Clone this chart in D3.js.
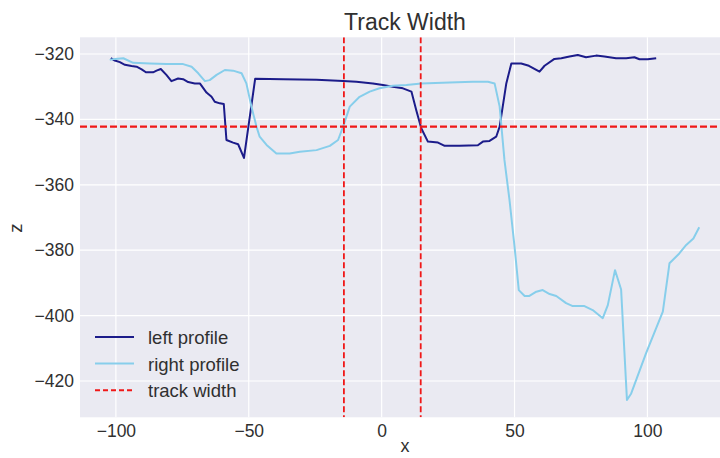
<!DOCTYPE html>
<html>
<head>
<meta charset="utf-8">
<script src="https://cdn.jsdelivr.net/npm/d3@7"></script>
<style>
  html, body { margin: 0; padding: 0; background: #ffffff; }
  svg { display: block; font-family: "Liberation Sans", Arial, sans-serif; }
</style>
</head>
<body>
<svg id="chart" width="720" height="458"></svg>
<script>
// Left rail profile: x positions and heights
const leftX = [-101.9, -100.4, -98.5, -96.6, -94.1, -92.2, -90.3, -88.7, -86.0, -84.7, -83.1, -81.0, -79.1,
  -76.6, -74.7, -72.8, -70.3, -68.4, -65.9, -64.0, -62.8, -60.9, -59.4, -58.4, -55.9, -54.0, -51.8, -47.6,
  -37.1, -24.5, -14.5, -9.5, -3.3, 0.5, 4.2, 8.0, 11.2, 13.0, 14.9, 17.4, 21.2, 23.7, 29.3, 36.2, 38.1,
  40.6, 43.1, 44.4, 46.9, 48.8, 52.5, 55.4, 59.4, 61.3, 65.0, 67.6, 70.7, 73.8, 76.9, 80.7, 83.8, 88.2,
  92.0, 95.1, 97.0, 100.1, 103.3];
const leftZ = [-321.3, -322.0, -322.5, -323.3, -323.7, -323.9, -324.7, -325.6, -325.6, -325.1, -324.6, -326.4, -328.3,
  -327.5, -327.7, -328.6, -329.0, -329.0, -331.8, -333.1, -334.6, -335.1, -335.3, -346.3, -347.1, -347.6, -351.8, -327.6,
  -327.7, -327.9, -328.3, -328.5, -329.0, -329.5, -330.0, -330.5, -331.5, -337.1, -342.7, -346.8, -347.1, -348.1, -348.1, -347.9, -346.8,
  -346.6, -345.3, -342.2, -329.0, -322.9, -322.9, -323.6, -325.4, -323.6, -321.5, -321.3, -320.8, -320.3, -321.0, -320.5, -320.8, -321.3,
  -321.3, -321.0, -321.6, -321.6, -321.3];

// Right rail profile: x positions and heights
const rightX = [-102.3, -100.4, -97.2, -93.5, -87.2, -80.9, -74.7, -71.5, -69.0, -66.5, -64.7, -62.1, -59.0,
  -55.9, -52.7, -50.9, -49.0, -47.1, -45.9, -43.3, -39.6, -34.6, -30.8, -24.5, -19.5, -16.4, -14.5, -12.0,
  -8.3, -4.5, -0.8, 4.2, 9.3, 14.9, 25.6, 34.3, 40.0, 42.5, 44.4, 46.2, 48.1, 50.0, 51.6, 53.8, 55.6,
  58.2, 60.6, 63.2, 65.7, 69.4, 71.9, 76.3, 79.4, 83.2, 85.1, 87.8, 90.1, 92.3, 93.9, 99.5, 105.8,
  108.3, 112.0, 114.6, 117.3, 119.5];
const rightZ = [-321.8, -321.5, -321.3, -322.7, -322.9, -323.1, -323.1, -323.9, -325.9, -328.3, -328.0, -326.4, -324.9,
  -325.1, -325.9, -329.0, -336.1, -342.2, -345.3, -347.8, -350.4, -350.4, -349.9, -349.4, -348.1, -346.3, -342.2, -336.1,
  -333.1, -331.5, -330.5, -329.7, -329.5, -329.0, -328.7, -328.5, -328.5, -329.0, -336.1, -352.4, -364.6, -378.9, -392.2, -394.0, -394.0,
  -392.7, -392.2, -393.4, -394.0, -396.2, -397.1, -397.1, -398.3, -400.8, -396.8, -386.1, -392.0, -425.8, -423.8, -411.5, -398.8,
  -384.0, -381.0, -378.4, -376.4, -373.0];

// Track width markers
const trackEdgesX = [-14.2, 14.7];
const trackLevelZ = [-342.2];

const xTicks = [-100, -50, 0, 50, 100];
const zTicks = [-320, -340, -360, -380, -400, -420];

const colors = { left: "#1c1c8a", right: "skyblue", track: "#f01818" };

const legendItems = [
  { label: "left profile", color: colors.left, dash: null },
  { label: "right profile", color: colors.right, dash: null },
  { label: "track width", color: colors.track, dash: "5,3" }
];

const svg = d3.select("#chart");
const plot = { left: 80, right: 733, top: 37.3, bottom: 417.3 };

const x = d3.scaleLinear().domain([-113.5, 132.2]).range([plot.left, plot.right]);
const y = d3.scaleLinear().domain([-431.1, -314.9]).range([plot.bottom, plot.top]);

const textColor = "#303030";

// Axes background
svg.append("rect")
  .attr("x", plot.left).attr("y", plot.top)
  .attr("width", plot.right - plot.left).attr("height", plot.bottom - plot.top)
  .attr("fill", "#eaeaf2");

// Grid lines
svg.append("g").selectAll("line").data(xTicks).join("line")
  .attr("x1", d => x(d)).attr("x2", d => x(d))
  .attr("y1", plot.top).attr("y2", plot.bottom)
  .attr("stroke", "#ffffff").attr("stroke-width", 1.2);
svg.append("g").selectAll("line").data(zTicks).join("line")
  .attr("x1", plot.left).attr("x2", plot.right)
  .attr("y1", d => y(d)).attr("y2", d => y(d))
  .attr("stroke", "#ffffff").attr("stroke-width", 1.2);

// Axes (labels only, seaborn style without spines or tick marks)
const xAxis = svg.append("g")
  .attr("transform", `translate(0,${plot.bottom})`)
  .call(d3.axisBottom(x).tickValues(xTicks).tickSize(0).tickPadding(7));
const yAxis = svg.append("g")
  .attr("transform", `translate(${plot.left},0)`)
  .call(d3.axisLeft(y).tickValues(zTicks).tickSize(0).tickPadding(6));
[xAxis, yAxis].forEach(g => {
  g.select(".domain").remove();
  g.selectAll("text")
    .attr("font-size", 17.5)
    .attr("fill", textColor)
    .attr("font-family", "'Liberation Sans', Arial, sans-serif");
});

// Profiles
const lineGen = d3.line().x(d => x(d[0])).y(d => y(d[1]));
svg.append("clipPath").attr("id", "plotclip")
  .append("rect")
  .attr("x", plot.left).attr("y", plot.top)
  .attr("width", plot.right - plot.left).attr("height", plot.bottom - plot.top);

const marks = svg.append("g").attr("clip-path", "url(#plotclip)");

marks.append("path")
  .datum(d3.zip(leftX, leftZ))
  .attr("d", lineGen)
  .attr("fill", "none")
  .attr("stroke", colors.left)
  .attr("stroke-width", 2)
  .attr("stroke-linejoin", "round");

marks.append("path")
  .datum(d3.zip(rightX, rightZ))
  .attr("d", lineGen)
  .attr("fill", "none")
  .attr("stroke", colors.right)
  .attr("stroke-width", 2)
  .attr("stroke-linejoin", "round");

// Track width guides
marks.selectAll(".vguide").data(trackEdgesX).join("line")
  .attr("class", "vguide")
  .attr("x1", d => x(d)).attr("x2", d => x(d))
  .attr("y1", plot.top).attr("y2", plot.bottom)
  .attr("stroke", colors.track).attr("stroke-width", 1.8)
  .attr("stroke-dasharray", "6,3");
marks.selectAll(".hguide").data(trackLevelZ).join("line")
  .attr("class", "hguide")
  .attr("x1", plot.left).attr("x2", plot.right)
  .attr("y1", d => y(d)).attr("y2", d => y(d))
  .attr("stroke", colors.track).attr("stroke-width", 2.4)
  .attr("stroke-dasharray", "7,3");

// Title and axis labels
svg.append("text")
  .attr("x", 405).attr("y", 29.5)
  .attr("text-anchor", "middle")
  .attr("font-size", 23)
  .attr("fill", textColor)
  .text("Track Width");

svg.append("text")
  .attr("x", 405).attr("y", 452)
  .attr("text-anchor", "middle")
  .attr("font-size", 18)
  .attr("fill", textColor)
  .text("x");

svg.append("text")
  .attr("transform", "translate(22,228) rotate(-90)")
  .attr("text-anchor", "middle")
  .attr("font-size", 18.5)
  .attr("fill", textColor)
  .text("z");

// Legend
const legend = svg.append("g").attr("transform", "translate(95,337)");
const rows = legend.selectAll("g").data(legendItems).join("g")
  .attr("transform", (d, i) => `translate(0,${i * 26.6})`);
rows.append("line")
  .attr("x1", 0).attr("x2", 39).attr("y1", 0).attr("y2", 0)
  .attr("stroke", d => d.color)
  .attr("stroke-width", 2)
  .attr("stroke-dasharray", d => d.dash);
rows.append("text")
  .attr("x", 53).attr("y", 7)
  .attr("font-size", 18.5)
  .attr("fill", textColor)
  .text(d => d.label);
</script>
</body>
</html>
